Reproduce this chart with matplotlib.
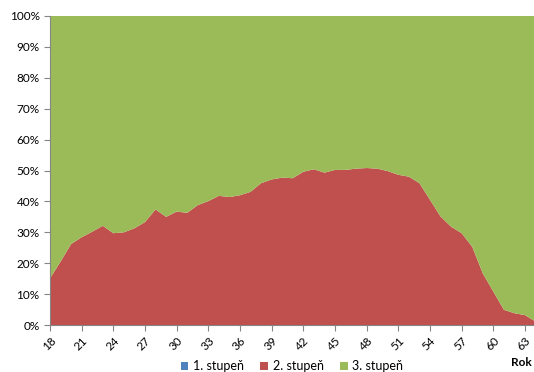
import numpy as np
import matplotlib
matplotlib.use("Agg")
import matplotlib.pyplot as plt
from matplotlib.ticker import FuncFormatter

plt.rcParams['font.family'] = ['Lato', 'DejaVu Sans']

years = list(range(18, 65))
stupen1 = [0.0] * len(years)
stupen2 = [15.1, 20.5, 26.2, 28.4, 30.2, 32.1, 29.7, 30.0, 31.3, 33.3,
           37.4, 35.0, 36.7, 36.3, 38.8, 40.1, 41.8, 41.4, 42.0, 43.1,
           45.9, 47.1, 47.7, 47.5, 49.6, 50.4, 49.3, 50.2, 50.2, 50.6,
           50.8, 50.6, 49.8, 48.6, 48.0, 45.9, 40.5, 35.1, 31.8, 29.7,
           25.3, 16.7, 10.8, 4.9, 3.8, 3.2, 1.1]
stupen3 = [100 - a - b for a, b in zip(stupen1, stupen2)]
labels = ['1. stupeň', '2. stupeň', '3. stupeň']
colors = ['#4F81BD', '#C0504D', '#9BBB59']

fig = plt.figure(figsize=(5.34, 3.72), dpi=100)
ax = fig.add_axes([50 / 534, 47 / 372, 485.6 / 534, 309 / 372])

ax.stackplot(years, stupen1, stupen2, stupen3, colors=colors, labels=labels,
             linewidth=0)

ax.set_xlim(18, 64)
ax.set_ylim(0, 100)
ax.set_yticks(np.arange(0, 101, 10))
ax.yaxis.set_major_formatter(FuncFormatter(lambda v, p: f'{int(v)}%'))
ax.set_xticks(list(range(18, 64, 3)))
ax.set_xticklabels([str(y) for y in range(18, 64, 3)], rotation=45,
                   ha='right', va='top', rotation_mode='anchor')
ax.tick_params(axis='both', labelsize=8.5, color='#868686', length=4)
ax.tick_params(axis='x', pad=3)
for side in ['top', 'right']:
    ax.spines[side].set_visible(False)
for side in ['left', 'bottom']:
    ax.spines[side].set_color('#868686')

fig.text(521 / 534, 1 - 362 / 372, 'Rok', fontsize=8.5, fontweight='bold',
         ha='center', va='center')

ax.legend(loc='center', bbox_to_anchor=(292 / 534, 1 - 366 / 372),
          bbox_transform=fig.transFigure, ncol=3, frameon=False, fontsize=9,
          handlelength=0.6, handleheight=0.6, handletextpad=0.4,
          columnspacing=1.3)

fig.savefig('out.png', dpi=100)
